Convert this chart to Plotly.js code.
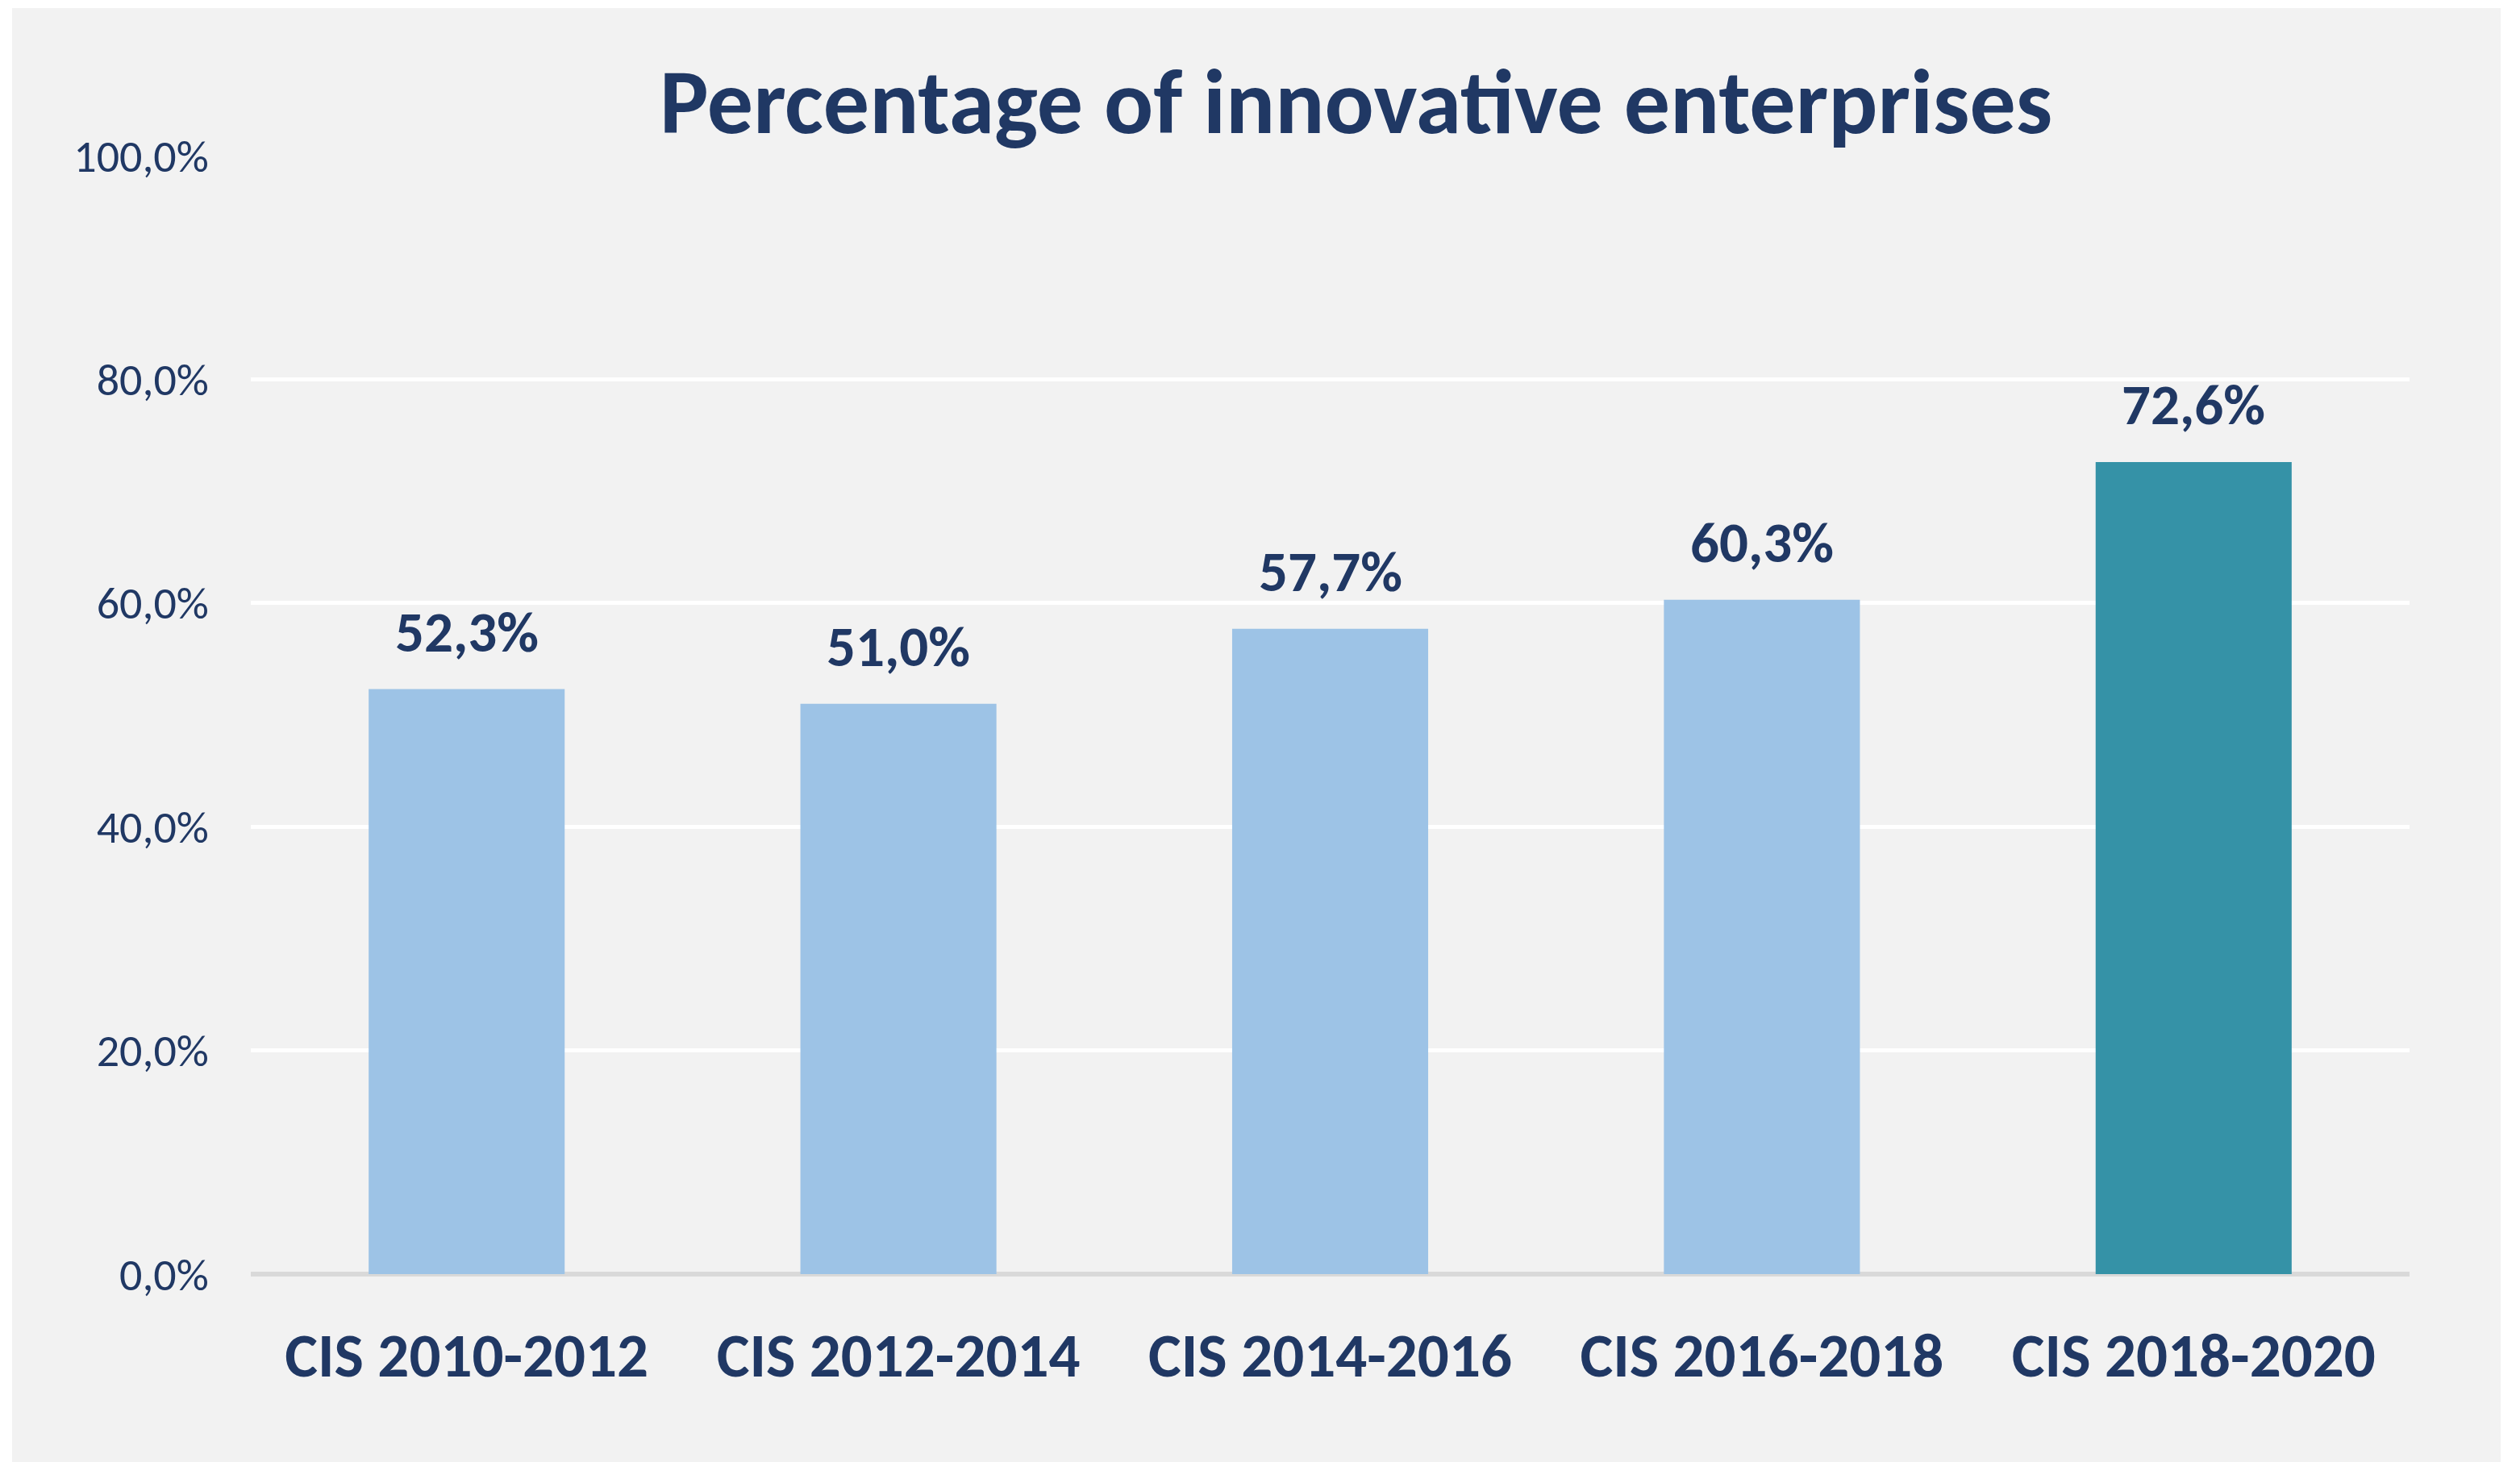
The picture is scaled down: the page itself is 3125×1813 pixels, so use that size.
<!DOCTYPE html>
<html>
<head>
<meta charset="utf-8">
<script src="https://cdn.plot.ly/plotly-3.0.1.min.js"></script>
<style>html,body{margin:0;padding:0;background:#ffffff;}#chart{width:3125px;height:1813px;}</style>
</head>
<body>
<div id="chart"></div>
<script>
const categories = ["CIS 2010-2012", "CIS 2012-2014", "CIS 2014-2016", "CIS 2016-2018", "CIS 2018-2020"];
const values = [52.3, 51.0, 57.7, 60.3, 72.6];
const valueLabels = ["52,3%", "51,0%", "57,7%", "60,3%", "72,6%"];
const barColors = ["#9dc3e6", "#9dc3e6", "#9dc3e6", "#9dc3e6", "#3592a7"];
const yTicks = [0, 20, 40, 60, 80, 100];
const yTickLabels = ["0,0%", "20,0%", "40,0%", "60,0%", "80,0%", "100,0%"];

const navy = "#203864";
const FONT = "Carlito, Calibri, Lato, 'Open Sans', sans-serif";

const trace = {
  type: "bar",
  x: categories,
  y: values,
  marker: {color: barColors},
  hoverinfo: "none",
  cliponaxis: false
};

const annotations = categories.map((c, i) => ({
  x: c, y: values[i], xref: "x", yref: "y",
  text: valueLabels[i], showarrow: false,
  yanchor: "bottom", yshift: 26,
  font: {family: FONT, size: 71, color: navy, weight: "bold"}
}));

const layout = {
  width: 3125, height: 1813,
  margin: {l: 311, r: 137, t: 193, b: 233},
  paper_bgcolor: "#ffffff",
  plot_bgcolor: "#f2f2f2",
  separators: ",.",
  showlegend: false,
  bargap: 0.546,
  title: {
    text: "<b>Percentage of innovative enterprises</b>",
    x: 0.512, xanchor: "center", xref: "paper",
    y: 0.931, yanchor: "middle", yref: "container",
    font: {family: FONT, size: 114, color: navy}
  },
  xaxis: {
    type: "category",
    showgrid: false,
    showline: false,
    ticks: "outside", ticklen: 34, tickcolor: "rgba(0,0,0,0)",
    tickfont: {family: FONT, size: 77, color: navy, weight: "bold"},
    fixedrange: true
  },
  yaxis: {
    range: [0, 100],
    tickvals: yTicks,
    ticktext: yTickLabels,
    showgrid: true, gridcolor: "#ffffff", gridwidth: 5,
    zeroline: true, zerolinecolor: "#d9d9d9", zerolinewidth: 6,
    showline: false,
    ticks: "outside", ticklen: 40, tickcolor: "rgba(0,0,0,0)",
    tickfont: {family: FONT, size: 56, color: navy},
    fixedrange: true
  },
  shapes: [{
    type: "rect", xref: "paper", yref: "paper", layer: "below",
    x0: (15 - 311) / 2677, x1: 1 + (3101 - 2988) / 2677, y0: -233 / 1387, y1: 1 + 183 / 1387,
    fillcolor: "#f2f2f2", line: {width: 0}
  }],
  annotations: annotations
};

Plotly.newPlot("chart", [trace], layout, {displayModeBar: false, staticPlot: true});
</script>
</body>
</html>
